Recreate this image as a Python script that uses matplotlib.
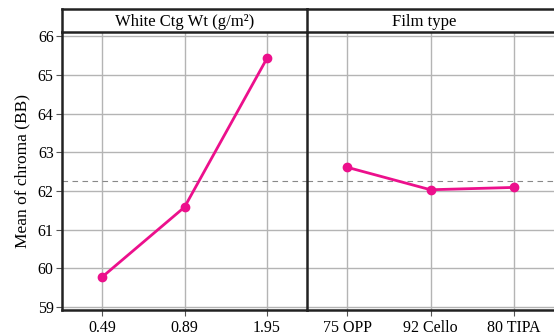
import matplotlib
matplotlib.use("Agg")
import matplotlib.pyplot as plt

coat_levels = ["0.49", "0.89", "1.95"]
coat_means = [59.77, 61.58, 65.43]
film_levels = ["75 OPP", "92 Cello", "80 TIPA"]
film_means = [62.61, 62.03, 62.09]
grand_mean = 62.25
panel_titles = ["White Ctg Wt (g/m²)", "Film type"]
y_ticks = [59, 60, 61, 62, 63, 64, 65, 66]

plt.rcParams['font.family'] = ['Liberation Serif', 'DejaVu Serif']
W, H = 554, 335
fig = plt.figure(figsize=(W / 100, H / 100), dpi=100)

def fx(px):
    return px / W

def fy(py):
    return 1 - py / H

line_color = "#ec108c"
grid_color = "#b4b4b4"
spine_color = "#222222"
ylim = (58.92, 66.11)
xlim = (-0.485, 2.485)

left_px, mid_px, right_px = 62, 307, 554
top_px, bot_px, head_top_px = 32, 310, 9

ax1 = fig.add_axes([fx(left_px), fy(bot_px), fx(mid_px - left_px), fy(top_px) - fy(bot_px)])
ax2 = fig.add_axes([fx(mid_px), fy(bot_px), fx(mid_px - left_px + 2), fy(top_px) - fy(bot_px)])

for ax, labels, vals in [(ax1, coat_levels, coat_means), (ax2, film_levels, film_means)]:
    x = list(range(len(labels)))
    ax.set_xlim(*xlim)
    ax.set_ylim(*ylim)
    ax.set_axisbelow(True)
    ax.grid(True, color=grid_color, linewidth=1.0)
    ax.axhline(grand_mean, color="#888888", linestyle=(0, (5, 4)), linewidth=0.8, zorder=1)
    ax.plot(x, vals, color=line_color, linewidth=2.0, marker="o", markersize=6, zorder=3)
    ax.set_xticks(x)
    ax.set_xticklabels(labels, fontsize=11.5)
    ax.set_yticks(y_ticks)
    ax.tick_params(axis="x", length=4, color="#555555", pad=3)
    ax.tick_params(axis="y", length=4, color="#555555", labelsize=11.5, pad=2)
    for s in ["top", "right"]:
        ax.spines[s].set_visible(False)
    ax.spines["bottom"].set_linewidth(1.8)
    ax.spines["bottom"].set_color(spine_color)
    ax.spines["left"].set_linewidth(1.8)
    ax.spines["left"].set_color(spine_color)

ax2.tick_params(axis="y", left=False, labelleft=False)
ax1.set_ylabel("Mean of chroma (BB)", fontsize=12.5, labelpad=5)

# header strips
for i, (l, r) in enumerate([(left_px, mid_px), (mid_px, right_px + 2)]):
    hax = fig.add_axes([fx(l), fy(top_px), fx(r - l), fy(head_top_px) - fy(top_px)])
    hax.set_xticks([])
    hax.set_yticks([])
    hax.set_facecolor("white")
    for s in ["top", "bottom", "left"]:
        hax.spines[s].set_linewidth(1.8)
        hax.spines[s].set_color(spine_color)
    hax.spines["right"].set_visible(False)
    hax.text(0.5 if i == 0 else 0.47, 0.45, panel_titles[i], ha="center", va="center",
             fontsize=12, transform=hax.transAxes)

fig.savefig("out.png", dpi=100)
